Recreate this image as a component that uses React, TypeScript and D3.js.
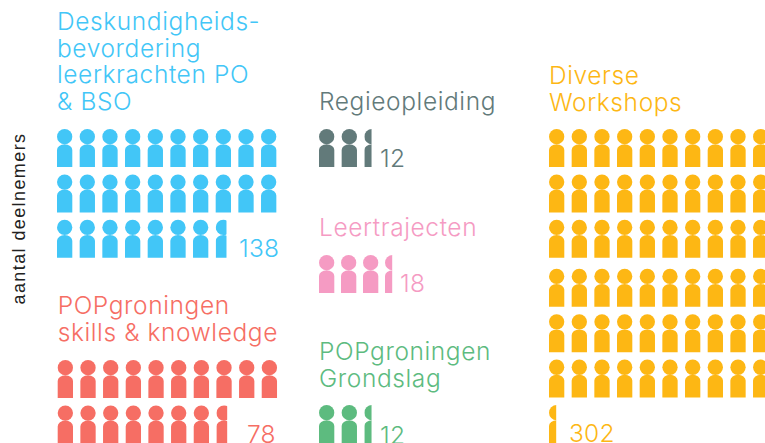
import React from "react";
import * as d3 from "d3";

const groupTitles = [
  ["Deskundigheids-", "bevordering", "leerkrachten PO", "& BSO"],
  ["POPgroningen", "skills & knowledge"],
  ["Regieopleiding"],
  ["Leertrajecten"],
  ["POPgroningen", "Grondslag"],
  ["Diverse", "Workshops"],
];
const participantLabels = ["138", "78", "12", "18", "12", "302"];
const iconCounts = [27.6, 17.6, 2.4, 3.4, 2.4, 60.4];
const groupColors = ["#42C6F7", "#F66E64", "#627A7A", "#F59BC3", "#5DBB7F", "#FDB714"];
const groupLefts = [57, 57.7, 319, 319, 319, 549];
const groupPitches = [22.67, 22.67, 22.67, 22, 22.67, 22.67];
const iconTops = [129, 360, 129, 255, 405, 129];
const titleBaselines = [30, 314, 110, 236, 360, 84];
const labelPositions = [[239, 257], [247, 443], [380, 167], [400, 292], [380, 444], [569, 442]];
const axisLabel = "aantal deelnemers";

const W = 765, H = 443, ICON_W = 15.3, HEAD_R = 7.65, ICON_H = 38;
const FONT = "Inter, Lato, sans-serif";

const rowY = (r: number) => r * 45.4 + (r >= 3 ? 3.6 : 0);
const partialW = d3.scaleLinear().domain([0, 1]).range([0, 18]);

function Person({ x, y, w, color, id }: any) {
  const bodyTop = y + 15.2;
  const rx = 7.65, ry = 5.8;
  const bodyPath = `M${x},${y + ICON_H}V${bodyTop + ry}A${rx},${ry} 0 0 1 ${x + rx},${bodyTop}A${rx},${ry} 0 0 1 ${x + ICON_W},${bodyTop + ry}V${y + ICON_H}Z`;
  return (
    <g clipPath={w < ICON_W ? `url(#${id})` : undefined} fill={color}>
      {w < ICON_W && (
        <clipPath id={id}>
          <rect x={x} y={y - 1} width={w} height={ICON_H + 2} />
        </clipPath>
      )}
      <circle cx={x + HEAD_R} cy={y + HEAD_R} r={HEAD_R} />
      <path d={bodyPath} />
    </g>
  );
}

export default function App() {
  return (
    <svg width={W} height={H} style={{ position: "absolute", left: 0, top: 0 }} fontFamily={FONT}>
      <rect width={W} height={H} fill="#fff" />
      <text
        transform="translate(25,218.5) rotate(-90)"
        textAnchor="middle"
        fontFamily="'Liberation Sans', sans-serif"
        fontSize={18}
        letterSpacing={1.4}
        fill="#222"
      >
        {axisLabel}
      </text>
      {groupTitles.map((title, g) => {
        const n = iconCounts[g];
        const whole = Math.floor(n);
        const frac = n - whole;
        const colX = d3.scaleLinear().domain([0, 1]).range([0, groupPitches[g]]);
        const items = d3.range(Math.ceil(n));
        return (
          <g key={g}>
            <text fontSize={24.5} fontWeight={350} letterSpacing={0.6} fill={groupColors[g]}>
              {title.map((line, i) => (
                <tspan key={i} x={groupLefts[g]} y={titleBaselines[g] + i * 26.6}>
                  {line}
                </tspan>
              ))}
            </text>
            {items.map((i) => (
              <Person
                key={i}
                id={`c${g}-${i}`}
                x={groupLefts[g] + colX(i % 10)}
                y={iconTops[g] + rowY(Math.floor(i / 10))}
                w={i < whole ? ICON_W : partialW(frac)}
                color={groupColors[g]}
              />
            ))}
            <text
              x={labelPositions[g][0]}
              y={labelPositions[g][1]}
              fontSize={24.5}
              fontWeight={350}
              letterSpacing={0.25}
              fill={groupColors[g]}
            >
              {participantLabels[g]}
            </text>
          </g>
        );
      })}
    </svg>
  );
}
